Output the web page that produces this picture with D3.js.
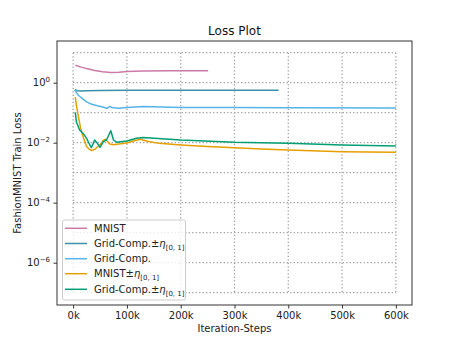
<!DOCTYPE html>
<html><head><meta charset="utf-8">
<script src="https://cdn.jsdelivr.net/npm/d3@7"></script>
<style>body{margin:0;background:#fff}svg{display:block;font-family:"DejaVu Sans",sans-serif}</style>
</head><body><svg id="c" width="458" height="343"></svg>
<script>
const mnistSteps = [4000,15000,25000,40000,55000,70000,85000,100000,130000,180000,251000];
const mnistVals  = [3.8,3.3,2.95,2.55,2.3,2.2,2.25,2.35,2.45,2.5,2.5];

const gridEta1Steps = [3000,8000,14000,25000,50000,100000,200000,300000,382000];
const gridEta1Vals  = [0.58,0.54,0.53,0.54,0.55,0.56,0.56,0.56,0.56];

const gridSteps = [3000,9000,18000,25000,35000,45000,55000,63000,68000,75000,85000,100000,130000,200000,300000,400000,600000];
const gridVals  = [0.58,0.39,0.29,0.23,0.19,0.17,0.155,0.14,0.16,0.145,0.14,0.148,0.16,0.15,0.148,0.145,0.143];

const mnistEtaSteps = [4000,6000,10000,14000,19000,25000,30000,35000,40000,45000,51000,56000,60000,64000,68000,75000,85000,100000,110000,125000,140000,160000,200000,250000,300000,350000,400000,500000,600000];
const mnistEtaVals  = [0.33,0.18,0.07,0.03,0.015,0.0075,0.006,0.0055,0.006,0.0072,0.009,0.012,0.013,0.011,0.009,0.0085,0.009,0.0098,0.0112,0.013,0.011,0.0095,0.0084,0.0075,0.0068,0.0062,0.0057,0.005,0.0048];

const gridEta2Steps = [4000,6000,12000,19000,25000,31000,34000,40000,45000,50000,56000,62000,70000,75000,81000,100000,118000,130000,200000,300000,400000,500000,600000];
const gridEta2Vals  = [0.103,0.05,0.0265,0.02,0.014,0.0084,0.0068,0.0123,0.0095,0.007,0.0108,0.0123,0.025,0.0123,0.0104,0.0114,0.014,0.015,0.0123,0.0103,0.0095,0.0084,0.0078];

const seriesNames = ["MNIST","Grid-Comp.±η","Grid-Comp.","MNIST±η","Grid-Comp.±η"];
const seriesSub   = [null,"[0, 1]",null,"[0, 1]","[0, 1]"];
const seriesColors = ["#CC79A7","#3A8FAA","#56B4E9","#E69F00","#009E73"];
const xTicks = [0,100000,200000,300000,400000,500000,600000];
const yTicks = [1,1e-2,1e-4,1e-6];
const yTickExp = ["0","−2","−4","−6"];
const gridDecades = [1e1,1,1e-1,1e-2,1e-3,1e-4,1e-5,1e-6,1e-7];

const series = [
  [mnistSteps,mnistVals],[gridEta1Steps,gridEta1Vals],[gridSteps,gridVals],
  [mnistEtaSteps,mnistEtaVals],[gridEta2Steps,gridEta2Vals]
];

const svg = d3.select("#c");
const L=57,R=412,T=41,B=305;
const x = d3.scaleLinear().domain([-30000,630000]).range([L,R]);
const y = d3.scaleLog().domain([Math.pow(10,1.39),Math.pow(10,-7.41)]).range([T,B]);

// grid
const g = svg.append("g");
gridDecades.forEach(d=>{
  g.append("line").attr("x1",x(0)).attr("x2",x(600000)).attr("y1",y(d)).attr("y2",y(d))
   .attr("stroke","#a0a0a0").attr("stroke-width",1.3).attr("stroke-dasharray","1.3,2.2");
});
xTicks.forEach(d=>{
  g.append("line").attr("x1",x(d)).attr("x2",x(d)).attr("y1",y(1e1)).attr("y2",y(1e-7))
   .attr("stroke","#a0a0a0").attr("stroke-width",1.3).attr("stroke-dasharray","1.3,2.2");
});

// lines
const line = d3.line().x(d=>x(d[0])).y(d=>y(d[1]));
series.forEach((s,i)=>{
  const pts = s[0].map((st,j)=>[st,s[1][j]]);
  svg.append("path").attr("d",line(pts)).attr("fill","none")
    .attr("stroke",seriesColors[i]).attr("stroke-width",1.5).attr("stroke-linejoin","round");
});

// frame
svg.append("rect").attr("x",L).attr("y",T).attr("width",R-L).attr("height",B-T)
  .attr("fill","none").attr("stroke","#333").attr("stroke-width",1);

// x axis
const xa = svg.append("g").attr("transform",`translate(0,${B})`)
  .call(d3.axisBottom(x).tickValues(xTicks).tickFormat(d=>(d/1000)+"k").tickSize(3.5).tickPadding(3.5).tickSizeOuter(0));
xa.select(".domain").remove();
xa.selectAll("line").attr("stroke","#333");
xa.selectAll("text").attr("font-size",10).attr("fill","#222").attr("font-family","DejaVu Sans");

// y axis
const ya = svg.append("g").attr("transform",`translate(${L},0)`)
  .call(d3.axisLeft(y).tickValues(yTicks).tickFormat("").tickSize(3.5).tickSizeOuter(0));
ya.select(".domain").remove();
ya.selectAll("line").attr("stroke","#333");
yTicks.forEach((d,i)=>{
  const t = svg.append("text").attr("x",L-7).attr("y",y(d)+3.5).attr("text-anchor","end")
    .attr("font-size",10).attr("fill","#222");
  t.append("tspan").text("10");
  t.append("tspan").attr("font-size",7).attr("dy",-4.5).text(yTickExp[i]);
});

// labels
svg.append("text").attr("x",(L+R)/2).attr("y",35).attr("text-anchor","middle").attr("font-size",12).attr("fill","#111").text("Loss Plot");
svg.append("text").attr("x",(L+R)/2).attr("y",332).attr("text-anchor","middle").attr("font-size",10).attr("fill","#222").text("Iteration-Steps");
svg.append("text").attr("transform",`translate(21,${(T+B)/2}) rotate(-90)`).attr("text-anchor","middle").attr("font-size",10).attr("fill","#222").text("FashionMNIST Train Loss");

// legend
const lg = svg.append("g");
lg.append("rect").attr("x",62.5).attr("y",220).attr("width",123).attr("height",80).attr("rx",2)
  .attr("fill","#fff").attr("fill-opacity",0.8).attr("stroke","#ccc").attr("stroke-width",1);
const ly = [228.3,243.5,258.7,273.7,289.3];
seriesNames.forEach((n,i)=>{
  lg.append("line").attr("x1",65).attr("x2",87).attr("y1",ly[i]).attr("y2",ly[i])
    .attr("stroke",seriesColors[i]).attr("stroke-width",1.5);
  const t = lg.append("text").attr("x",94).attr("y",ly[i]+3.5).attr("font-size",10).attr("fill","#222");
  if(seriesSub[i]){
    const base = n.replace("η","");
    t.append("tspan").text(base);
    t.append("tspan").attr("font-style","italic").text("η");
    t.append("tspan").attr("font-size",7).attr("dy",3).text(seriesSub[i]);
  } else t.text(n);
});
</script></body></html>
